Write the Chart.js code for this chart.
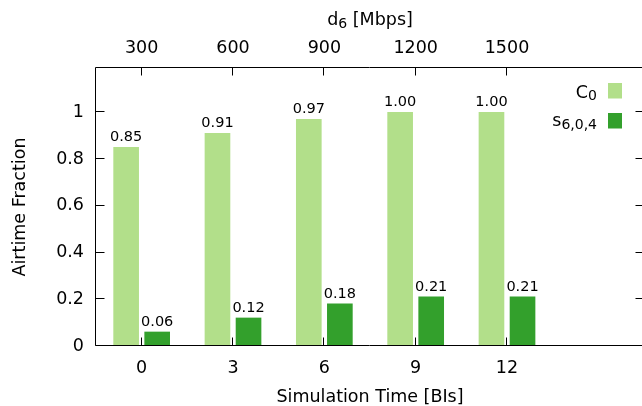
<!DOCTYPE html>
<html><head><meta charset="utf-8">
<script src="https://cdn.jsdelivr.net/npm/chart.js@4"></script>
<style>html,body{margin:0;padding:0;overflow:hidden;background:#fff}
#wrap{position:relative;width:660px;height:406px}</style></head>
<body><div id="wrap"><canvas id="c" width="660" height="406"></canvas></div>
<script>
const simTimes = [0, 3, 6, 9, 12];
const rateLabels = ['300', '600', '900', '1200', '1500'];
const c0Values = [0.85, 0.91, 0.97, 1.00, 1.00];
const sValues = [0.06, 0.12, 0.18, 0.21, 0.21];
const yTicks = [0, 0.2, 0.4, 0.6, 0.8, 1];
const xTitle = 'Simulation Time [BIs]';
const yTitle = 'Airtime Fraction';
const topTitle = {main: 'd', sub: '6', rest: ' [Mbps]'};
const legendItems = [{main: 'C', sub: '0'}, {main: 's', sub: '6,0,4'}];
const colors = ['#b2df8a', '#33a02c'];

const FAM = '"DejaVu Sans", sans-serif';
const BAR_OFFSET = 0.51;
const FS = 17.5, SUB = 14, VAL = 14.5;

function drawSub(ctx, x, y, parts, align) {
  let total = 0;
  parts.forEach(p => { ctx.font = p.size + 'px ' + FAM; p.w = ctx.measureText(p.t).width; total += p.w; });
  let cx = align === 'right' ? x - total : (align === 'center' ? x - total / 2 : x);
  ctx.textAlign = 'left';
  ctx.textBaseline = 'alphabetic';
  parts.forEach(p => { ctx.font = p.size + 'px ' + FAM; ctx.fillText(p.t, cx, y + (p.dy || 0)); cx += p.w; });
}

const framePlugin = {
  id: 'frame',
  afterDatasetsDraw(chart) {
    const {ctx, chartArea: a, scales} = chart;
    ctx.save();
    ctx.strokeStyle = '#000';
    ctx.lineWidth = 1;
    const L = Math.round(a.left) - 0.5, T = Math.round(a.top) - 0.5;
    const B = Math.round(a.bottom) - 0.5, R = Math.round(a.right) - 0.5;
    ctx.beginPath();
    ctx.moveTo(L, T); ctx.lineTo(R, T); ctx.lineTo(R, B); ctx.lineTo(L, B); ctx.closePath();
    ctx.stroke();
    ctx.beginPath();
    scales.x.ticks.forEach(t => { const px = Math.round(scales.x.getPixelForValue(t.value)) - 0.5; ctx.moveTo(px, B); ctx.lineTo(px, B - 8); });
    scales.x2.ticks.forEach(t => { const px = Math.round(scales.x2.getPixelForValue(t.value)) - 0.5; ctx.moveTo(px, T); ctx.lineTo(px, T + 8); });
    scales.y.ticks.forEach(t => { const py = Math.round(scales.y.getPixelForValue(t.value)) - 0.5; ctx.moveTo(L, py); ctx.lineTo(L + 9, py); ctx.moveTo(R, py); ctx.lineTo(R - 8, py); });
    ctx.stroke();

    // value labels
    ctx.fillStyle = '#000';
    ctx.font = VAL + 'px ' + FAM;
    ctx.textAlign = 'center';
    ctx.textBaseline = 'alphabetic';
    chart.data.datasets.forEach((ds, di) => {
      const meta = chart.getDatasetMeta(di);
      meta.data.forEach((el, i) => ctx.fillText(ds.data[i].y.toFixed(2), el.x, el.y - 6));
    });

    // top title
    const cx = (scales.x2.left + scales.x2.right) / 2;
    drawSub(ctx, cx, 25, [{t: topTitle.main, size: FS}, {t: topTitle.sub, size: SUB, dy: 2.7}, {t: topTitle.rest, size: FS}], 'center');

    // legend
    legendItems.forEach((it, i) => {
      const boxRight = a.right - 22, boxTop = a.top + 15 + i * 30;
      ctx.fillStyle = colors[i];
      ctx.fillRect(boxRight - 14, boxTop, 14, 15.5);
      ctx.fillStyle = '#000';
      drawSub(ctx, boxRight - 25, boxTop + 14.5 - i * 1.5, [{t: it.main, size: FS}, {t: it.sub, size: SUB, dy: 2.7}], 'right');
    });
    ctx.restore();
  }
};

const tickFont = {family: FAM, size: FS};
const titleFont = {family: FAM, size: FS, lineHeight: 1};

new Chart(document.getElementById('c'), {
  type: 'bar',
  data: {
    datasets: [
      {label: 'C0', data: simTimes.map((t, i) => ({x: t - BAR_OFFSET, y: c0Values[i]})), backgroundColor: colors[0]},
      {label: 's6,0,4', data: simTimes.map((t, i) => ({x: t + BAR_OFFSET, y: sValues[i]})), backgroundColor: colors[1]}
    ]
  },
  options: {
    responsive: false,
    animation: false,
    devicePixelRatio: 1,
    layout: {padding: {left: 0, right: 16, top: 0, bottom: 0}},
    datasets: {bar: {grouped: false, barThickness: 25, borderWidth: 0}},
    plugins: {legend: {display: false}, tooltip: {enabled: false}},
    scales: {
      x: {
        type: 'linear', position: 'bottom', min: -1.5, max: 16.5, offset: false,
        afterBuildTicks: s => { s.ticks = simTimes.map(v => ({value: v})); },
        afterFit: s => { s.height = 60; },
        grid: {display: false, offset: false, drawTicks: false}, border: {display: false},
        ticks: {font: tickFont, color: '#000', padding: 12, maxRotation: 0, autoSkip: false, callback: v => String(v)},
        title: {display: true, text: xTitle, font: titleFont, color: '#000', padding: {top: 0, bottom: 0}}
      },
      x2: {
        type: 'linear', position: 'top', min: -1.5, max: 16.5, offset: false,
        afterBuildTicks: s => { s.ticks = simTimes.map(v => ({value: v})); },
        afterFit: s => { s.height = 68; },
        grid: {display: false, offset: false, drawTicks: false}, border: {display: false},
        ticks: {font: tickFont, color: '#000', padding: 9, maxRotation: 0, autoSkip: false,
          callback: (v) => rateLabels[simTimes.indexOf(v)]}
      },
      y: {
        type: 'linear', position: 'left', min: 0, max: 1.19,
        afterBuildTicks: s => { s.ticks = yTicks.map(v => ({value: v})); },
        afterFit: s => { s.width = 96; },
        grid: {display: false, drawTicks: false}, border: {display: false},
        ticks: {font: tickFont, color: '#000', padding: 12, callback: v => String(+v.toFixed(1))},
        title: {display: true, text: yTitle, font: tickFont, color: '#000', padding: {top: 10, bottom: 0}}
      }
    }
  },
  plugins: [framePlugin]
});
</script>
</body></html>
